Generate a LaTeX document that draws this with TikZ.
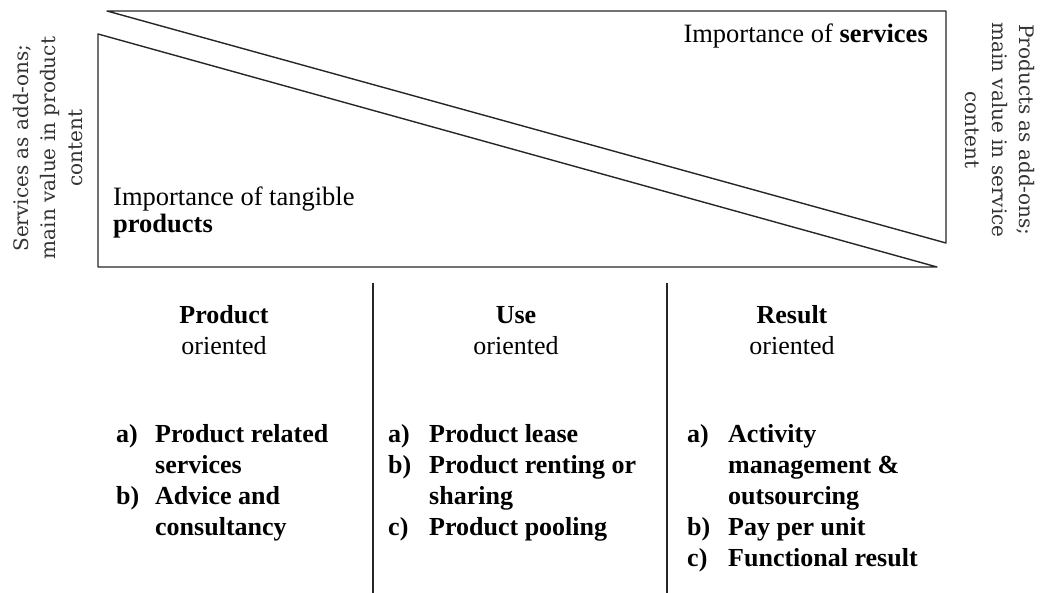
\documentclass[tikz,border=0pt]{standalone}
\usepackage{fontspec}
\setmainfont{Liberation Serif}
\newfontfamily\sidefont{DejaVu Serif}

\begin{document}
\begin{tikzpicture}[x=1pt,y=-1pt,
  frame/.style={draw=black!85, line width=1.4pt, line join=round},
  divider/.style={draw=black!85, line width=1.4pt},
  importance/.style={inner sep=0pt, font=\fontsize{26.5}{22}\selectfont},
  colhead/.style={inner sep=0pt, anchor=base, font=\fontsize{26}{31}\selectfont},
  itemtext/.style={inner sep=0pt, anchor=base west, font=\fontsize{26}{31}\selectfont\bfseries},
  sidenote/.style={inner sep=0pt, align=center, text=black!80, font=\sidefont\fontsize{20}{27}\selectfont}
]
\useasboundingbox (0,0) rectangle (1040,593);

% wedges: services (top) and tangible products (bottom)
\draw[frame] (107,11) -- (946,11) -- (946,243) -- cycle;
\draw[frame] (98,34) -- (937,267) -- (98,267) -- cycle;

\node[importance, anchor=base east] (servtxt) at (928,43) {Importance of \textbf{services}};
\node[importance, anchor=base west] (prodtxt) at (113,206) {Importance of tangible};
\node[importance, anchor=base west] (prodtxt2) at (113,233) {\textbf{products}};

% side notes
\node[sidenote, rotate=90] (leftnote) at (48,148) {Services as add-ons;\\main value in product\\content};
\node[sidenote, rotate=-90] (rightnote) at (1000,130) {Products as add-ons;\\main value in service\\content};

% column dividers
\draw[divider] (373,283) -- (373,593);
\draw[divider] (667,283) -- (667,593);

% column headings
\node[colhead, font=\fontsize{26}{31}\selectfont\bfseries] (h1) at (224,323) {Product};
\node[colhead] (h1b) at (224,354) {oriented};
\node[colhead, font=\fontsize{26}{31}\selectfont\bfseries] (h2) at (516,323) {Use};
\node[colhead] (h2b) at (516,354) {oriented};
\node[colhead, font=\fontsize{26}{31}\selectfont\bfseries] (h3) at (792,323) {Result};
\node[colhead] (h3b) at (792,354) {oriented};

% product oriented list
\node[itemtext] (c1a) at (116,442) {a)};
\node[itemtext] (c1at) at (155,442) {Product related};
\node[itemtext] (c1at2) at (155,473) {services};
\node[itemtext] (c1b) at (116,504) {b)};
\node[itemtext] (c1bt) at (155,504) {Advice and};
\node[itemtext] (c1bt2) at (155,535) {consultancy};

% use oriented list
\node[itemtext] (c2a) at (388,442) {a)};
\node[itemtext] (c2at) at (429,442) {Product lease};
\node[itemtext] (c2b) at (388,473) {b)};
\node[itemtext] (c2bt) at (429,473) {Product renting or};
\node[itemtext] (c2bt2) at (429,504) {sharing};
\node[itemtext] (c2c) at (388,535) {c)};
\node[itemtext] (c2ct) at (429,535) {Product pooling};

% result oriented list
\node[itemtext] (c3a) at (687,442) {a)};
\node[itemtext] (c3at) at (728,442) {Activity};
\node[itemtext] (c3at2) at (728,473) {management \&};
\node[itemtext] (c3at3) at (728,504) {outsourcing};
\node[itemtext] (c3b) at (687,535) {b)};
\node[itemtext] (c3bt) at (728,535) {Pay per unit};
\node[itemtext] (c3c) at (687,566) {c)};
\node[itemtext] (c3ct) at (728,566) {Functional result};
\end{tikzpicture}
\end{document}
